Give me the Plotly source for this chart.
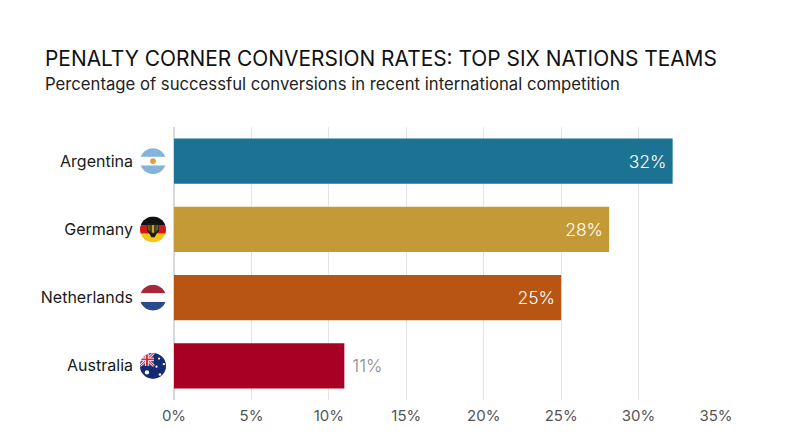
import base64
import plotly.graph_objects as go

countries = ['Argentina', 'Germany', 'Netherlands', 'Australia']
rates = [32.2, 28.1, 25, 11]
rate_labels = ['32%', '28%', '25%', '11%']
bar_colors = ['#1c7293', '#c49a36', '#b85512', '#a80024']
label_colors = ['#ffffff', '#ffffff', '#ffffff', '#8c8c8c']
label_positions = ['inside', 'inside', 'inside', 'outside']
x_ticks = [0, 5, 10, 15, 20, 25, 30, 35]
x_tick_labels = ['0%', '5%', '10%', '15%', '20%', '25%', '30%', '35%']

# the page body adds 8px around the figure, so the figure is kept that much smaller
WIDTH, HEIGHT = 784, 431
LEFT, RIGHT, TOP, BOTTOM = 166, 76, 119, 39
PLOT_W = WIDTH - LEFT - RIGHT
PLOT_H = HEIGHT - TOP - BOTTOM
FONT = 'Inter'


def circle_flag(body):
    # small round flag as an inline svg so it scales with the image box
    svg = (
        '<svg xmlns="http://www.w3.org/2000/svg" viewBox="0 0 60 60" width="60" height="60">'
        '<defs><clipPath id="c"><circle cx="30" cy="30" r="30"/></clipPath></defs>'
        f'<g clip-path="url(#c)">{body}</g></svg>'
    )
    return 'data:image/svg+xml;base64,' + base64.b64encode(svg.encode()).decode()


flags = {
    'Argentina': circle_flag(
        '<rect width="60" height="60" fill="#fff"/>'
        '<rect width="60" height="20" fill="#85b3dc"/>'
        '<rect y="40" width="60" height="20" fill="#85b3dc"/>'
        '<circle cx="30" cy="30" r="6.5" fill="#e0a040"/>'
    ),
    'Germany': circle_flag(
        '<rect width="60" height="20" fill="#111"/>'
        '<rect y="20" width="60" height="20" fill="#d01818"/>'
        '<rect y="40" width="60" height="20" fill="#f5c518"/>'
        '<path d="M16 16h28v18l-6 6-4 8h-8l-4-8-6-6z" fill="#1a1a1a"/>'
        '<path d="M19 20v12M23 20v15M37 20v15M41 20v12" stroke="#c9a227" stroke-width="1.6"/>'
        '<rect x="27" y="20" width="6" height="18" fill="#c9a227"/>'
    ),
    'Netherlands': circle_flag(
        '<rect width="60" height="20" fill="#a6283a"/>'
        '<rect y="20" width="60" height="20" fill="#fff" stroke="#e6e6e6" stroke-width="0.5"/>'
        '<rect y="40" width="60" height="20" fill="#2b4a8b"/>'
    ),
    'Australia': circle_flag(
        '<rect width="60" height="60" fill="#142a73"/>'
        '<rect width="32" height="30" fill="#3c4f8f"/>'
        '<path d="M0 0L32 30M32 0L0 30" stroke="#fff" stroke-width="6"/>'
        '<path d="M0 0L32 30M32 0L0 30" stroke="#d9283c" stroke-width="2.5"/>'
        '<path d="M16 0V30M0 15H32" stroke="#fff" stroke-width="8"/>'
        '<path d="M16 0V30M0 15H32" stroke="#d9283c" stroke-width="4.5"/>'
        '<circle cx="16" cy="45" r="5" fill="#fff"/>'
        '<circle cx="44" cy="13" r="2.6" fill="#fff"/>'
        '<circle cx="55" cy="26" r="2.6" fill="#fff"/>'
        '<circle cx="38" cy="32" r="2.6" fill="#fff"/>'
        '<circle cx="46" cy="50" r="3" fill="#fff"/>'
    ),
}

fig = go.Figure(go.Bar(
    x=rates,
    y=countries,
    orientation='h',
    marker_color=bar_colors,
    marker_line_width=0,
    text=[f'{t}\u2009' if p == 'inside' else f'\u00a0{t}' for t, p in zip(rate_labels, label_positions)],
    textposition=label_positions,
    insidetextanchor='end',
    textangle=0,
    constraintext='none',
    textfont=dict(family=FONT, size=17.5, color=label_colors, weight=300),
    cliponaxis=False,
    hoverinfo='skip',
))

# flags sit between the country names and the axis line
for country in countries:
    fig.add_layout_image(
        source=flags[country],
        xref='x domain', yref='y',
        x=-21 / PLOT_W, y=country,
        sizex=26 / PLOT_W, sizey=26 / (PLOT_H / 4),
        xanchor='center', yanchor='middle',
        sizing='stretch', layer='above',
    )

fig.update_layout(
    width=WIDTH,
    height=HEIGHT,
    margin=dict(l=LEFT, r=RIGHT, t=TOP, b=BOTTOM, autoexpand=False),
    paper_bgcolor='#ffffff',
    plot_bgcolor='#ffffff',
    bargap=0.335,
    showlegend=False,
    font=dict(family=FONT),
    annotations=[
        dict(
            text='PENALTY CORNER CONVERSION RATES: TOP SIX NATIONS TEAMS',
            xref='paper', yref='paper',
            x=-131 / PLOT_W, y=1 + (TOP - 50) / PLOT_H,
            xanchor='left', yanchor='middle', showarrow=False,
            font=dict(family=FONT, size=20.9, color='#111111'),
        ),
        dict(
            text='Percentage of successful conversions in recent international competition',
            xref='paper', yref='paper',
            x=-131 / PLOT_W, y=1 + (TOP - 76) / PLOT_H,
            xanchor='left', yanchor='middle', showarrow=False,
            font=dict(family=FONT, size=16.7, color='#222222'),
        ),
    ],
)
fig.update_xaxes(
    range=[0, 35],
    tickvals=x_ticks,
    ticktext=x_tick_labels,
    showgrid=True,
    gridcolor='#e4e4e4',
    gridwidth=1.3,
    zeroline=True,
    zerolinecolor='#d9d9d9',
    zerolinewidth=1.5,
    showline=False,
    ticks='',
    ticklabelstandoff=5,
    tickfont=dict(family=FONT, size=15, color='#555555'),
)
fig.update_yaxes(
    categoryorder='array',
    categoryarray=countries[::-1],
    showgrid=False,
    showline=False,
    ticks='',
    ticklabelstandoff=40,
    tickfont=dict(family=FONT, size=16, color='#1a1a1a'),
)

fig.write_html('out.html')
